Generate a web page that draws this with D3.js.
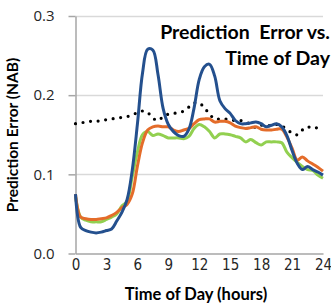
<!DOCTYPE html>
<html>
<head>
<meta charset="utf-8">
<script src="https://cdn.jsdelivr.net/npm/d3@7"></script>
<style>
  body { margin: 0; background: #fff; }
  svg { display: block; }
</style>
</head>
<body>
<div id="chart"></div>
<script>
var svgWidth = 331;
var svgHeight = 305;

// half-hour grid, values
var hours = d3.range(0, 24.5, 0.5);

var blueVals = [0.075, 0.033, 0.029, 0.027, 0.026, 0.027, 0.029, 0.031, 0.041, 0.052,
  0.068, 0.105, 0.163, 0.228, 0.258, 0.257, 0.226, 0.183, 0.163, 0.154,
  0.149, 0.148, 0.157, 0.184, 0.220, 0.236, 0.239, 0.224, 0.193, 0.183,
  0.177, 0.168, 0.164, 0.164, 0.165, 0.166, 0.164, 0.160, 0.162, 0.164,
  0.160, 0.149, 0.130, 0.114, 0.106, 0.110, 0.106, 0.103, 0.099];

var orangeVals = [0.075, 0.046, 0.044, 0.043, 0.043, 0.044, 0.045, 0.048, 0.052, 0.058,
  0.062, 0.075, 0.110, 0.140, 0.156, 0.160, 0.161, 0.160, 0.160, 0.156,
  0.154, 0.156, 0.158, 0.164, 0.169, 0.170, 0.170, 0.166, 0.167, 0.167,
  0.165, 0.161, 0.159, 0.158, 0.159, 0.160, 0.157, 0.156, 0.156, 0.157,
  0.157, 0.147, 0.133, 0.118, 0.122, 0.117, 0.113, 0.109, 0.104];

var greenVals = [0.072, 0.046, 0.042, 0.040, 0.040, 0.040, 0.043, 0.046, 0.050, 0.060,
  0.066, 0.097, 0.128, 0.150, 0.154, 0.149, 0.151, 0.149, 0.146, 0.146,
  0.146, 0.145, 0.148, 0.158, 0.163, 0.160, 0.154, 0.146, 0.151, 0.151,
  0.150, 0.148, 0.146, 0.141, 0.144, 0.140, 0.137, 0.141, 0.141, 0.141,
  0.140, 0.128, 0.121, 0.115, 0.110, 0.106, 0.105, 0.099, 0.095];

var dottedVals = [0.164, 0.165, 0.166, 0.167, 0.167, 0.168, 0.169, 0.170, 0.171, 0.172,
  0.173, 0.175, 0.178, 0.180, 0.178, 0.171, 0.168, 0.173, 0.176, 0.177,
  0.178, 0.180, 0.185, 0.190, 0.190, 0.184, 0.176, 0.170, 0.170, 0.170,
  0.169, 0.168, 0.168, 0.166, 0.163, 0.159, 0.162, 0.161, 0.162, 0.163,
  0.161, 0.157, 0.152, 0.150, 0.156, 0.160, 0.158, 0.159, 0.159];

var xTicks = [0, 3, 6, 9, 12, 15, 18, 21, 24];
var yTicks = [0.0, 0.1, 0.2, 0.3];

var svg = d3.select("#chart")
  .append("svg")
  .attr("width", svgWidth)
  .attr("height", svgHeight);

// scales
var xScale = d3.scaleLinear().domain([0, 24]).range([75.5, 323]);
var yScale = d3.scaleLinear().domain([0, 0.3]).range([253.5, 16]);

// gridlines
svg.append("g")
  .selectAll("line")
  .data(yTicks.slice(1))
  .enter()
  .append("line")
  .attr("x1", xScale(0))
  .attr("x2", xScale(24))
  .attr("y1", d => Math.round(yScale(d)) + 0.5)
  .attr("y2", d => Math.round(yScale(d)) + 0.5)
  .attr("stroke", "#d9d9d9")
  .attr("stroke-width", 1.5);

// y axis
var leftAxis = d3.axisLeft(yScale)
  .tickValues(yTicks)
  .tickFormat(d3.format(".1f"))
  .tickSizeInner(7)
  .tickSizeOuter(0)
  .tickPadding(14);

var yAxis = svg.append("g")
  .attr("transform", `translate(${xScale(0)}, 0)`)
  .call(leftAxis);
yAxis.select(".domain").attr("stroke", "#a6a6a6").attr("stroke-width", 1.5);
yAxis.selectAll(".tick line").attr("stroke", "#a6a6a6").attr("stroke-width", 1.5);
yAxis.selectAll("text")
  .attr("fill", "#262626")
  .style("font-family", "'Open Sans', sans-serif")
  .style("font-size", "15px");

// x axis
var bottomAxis = d3.axisBottom(xScale)
  .tickValues(xTicks)
  .tickSizeInner(0)
  .tickSizeOuter(0)
  .tickPadding(6);

var xAxis = svg.append("g")
  .attr("transform", `translate(0, ${yScale(0)})`)
  .call(bottomAxis);
xAxis.select(".domain").attr("stroke", "#a6a6a6").attr("stroke-width", 1.5);
xAxis.selectAll("text")
  .attr("fill", "#262626")
  .style("font-family", "'Liberation Sans Narrow', 'DejaVu Sans Condensed', sans-serif")
  .style("font-size", "15px");

// lines
var line = d3.line()
  .x((d, i) => xScale(hours[i]))
  .y(d => yScale(d))
  .curve(d3.curveCatmullRom);

svg.append("path")
  .datum(dottedVals)
  .attr("d", line)
  .attr("fill", "none")
  .attr("stroke", "#000")
  .attr("stroke-width", 3.2)
  .attr("stroke-linecap", "round")
  .attr("stroke-dasharray", "0 7.6");

svg.append("path")
  .datum(greenVals)
  .attr("d", line)
  .attr("fill", "none")
  .attr("stroke", "#92d050")
  .attr("stroke-width", 3);

svg.append("path")
  .datum(orangeVals)
  .attr("d", line)
  .attr("fill", "none")
  .attr("stroke", "#e46c2a")
  .attr("stroke-width", 3);

svg.append("path")
  .datum(blueVals)
  .attr("d", line)
  .attr("fill", "none")
  .attr("stroke", "#24508e")
  .attr("stroke-width", 3);

// title
var title = svg.append("text")
  .attr("text-anchor", "end")
  .attr("fill", "#000")
  .style("font-family", "Lato, sans-serif")
  .style("font-weight", "bold")
  .style("font-size", "19.5px");
title.append("tspan").attr("x", 330).attr("y", 39).style("white-space", "pre").text("Prediction  Error vs.");
title.append("tspan").attr("x", 330).attr("y", 65).text("Time of Day");

// axis labels
svg.append("text")
  .attr("x", 196)
  .attr("y", 300)
  .attr("text-anchor", "middle")
  .style("font-family", "Lato, sans-serif")
  .style("font-weight", "bold")
  .style("font-size", "16.5px")
  .text("Time of Day (hours)");

svg.append("text")
  .attr("transform", "rotate(-90)")
  .attr("x", -135)
  .attr("y", 18)
  .attr("text-anchor", "middle")
  .style("font-family", "Lato, sans-serif")
  .style("font-weight", "bold")
  .style("font-size", "15.5px")
  .text("Prediction Error (NAB)");
</script>
</body>
</html>
